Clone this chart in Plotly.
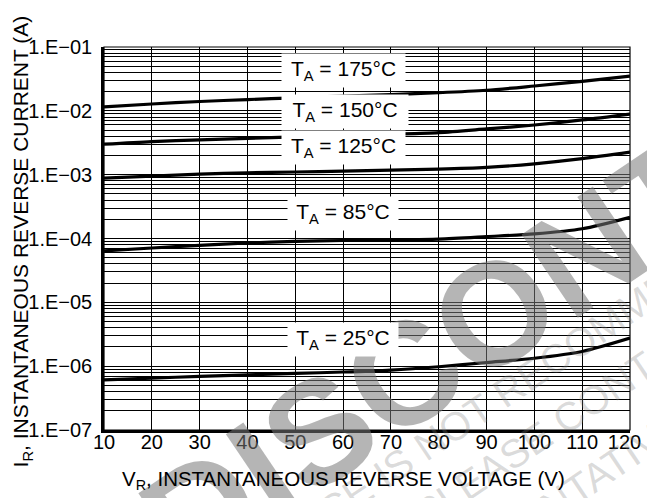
import math
import plotly.graph_objects as go

voltage = [10, 20, 30, 40, 50, 60, 70, 80, 90, 100, 110, 120]
i_175 = [1.15e-2, 1.28e-2, 1.4e-2, 1.5e-2, 1.6e-2, 1.7e-2, 1.8e-2, 1.92e-2, 2.1e-2, 2.45e-2, 2.9e-2, 3.5e-2]
i_150 = [3.0e-3, 3.3e-3, 3.5e-3, 3.7e-3, 3.9e-3, 4.1e-3, 4.3e-3, 4.55e-3, 5.2e-3, 6.0e-3, 7.2e-3, 8.9e-3]
i_125 = [8.8e-4, 9.5e-4, 1.02e-3, 1.07e-3, 1.1e-3, 1.14e-3, 1.18e-3, 1.22e-3, 1.3e-3, 1.48e-3, 1.78e-3, 2.25e-3]
i_85 = [6.4e-5, 7.1e-5, 7.8e-5, 8.5e-5, 9.0e-5, 9.3e-5, 9.5e-5, 9.8e-5, 1.07e-4, 1.18e-4, 1.42e-4, 2.15e-4]
i_25 = [6.1e-7, 6.5e-7, 6.9e-7, 7.3e-7, 7.7e-7, 8.1e-7, 8.7e-7, 9.8e-7, 1.14e-6, 1.33e-6, 1.7e-6, 2.75e-6]

series = [("175", i_175), ("150", i_150), ("125", i_125), ("85", i_85), ("25", i_25)]
label_x = [60, 60.5, 60, 60, 60]
label_y = [3.57e-2, 8.2e-3, 2.2e-3, 2.05e-4, 2.2e-6]
label_w = [121, 124, 121, 108, 108]

x_ticks = [10, 20, 30, 40, 50, 60, 70, 80, 90, 100, 110, 120]
x_tick_text = ["10", "20", "30", "40", "50", "60", "70", "80", "90", "100", "110", "120\u00a0\u00a0"]

decades = [-7, -6, -5, -4, -3, -2, -1]
tick_vals = []
tick_text = []
for e in decades:
    for k in range(1, 10):
        if e == -1 and k > 1:
            break
        tick_vals.append(k * 10.0 ** e)
        tick_text.append("1.E\u22120%d" % (-e) if k == 1 else "")

watermark_lines = ["THIS DEVICE IS NOT RECOMMENDED FOR NEW DESIGN",
                   "PLEASE CONTACT YOUR ON SEMICONDUCTOR",
                   "REPRESENTATIVE FOR INFORMATION"]

FONT = "Liberation Sans, Arial, Helvetica, sans-serif"


def px(xp):
    return (xp - 96) / 548


def py(yp):
    return (422 - yp) / 383


fig = go.Figure()
for name, vals in series:
    fig.add_trace(go.Scatter(x=voltage, y=vals, mode="lines", name=name,
                             line=dict(color="black", width=3.2, shape="spline", smoothing=0.8),
                             showlegend=False, hoverinfo="skip"))

annotations = [
    dict(text="<b>DISCONTINUED</b>", xref="paper", yref="paper",
         x=px(632), y=py(221), xanchor="center", yanchor="middle",
         textangle=-34, showarrow=False,
         font=dict(family=FONT, size=146, color="rgba(120,120,120,0.55)")),
]
for txt, (cx, cy) in zip(watermark_lines, [(627, 311), (822, 252), (709, 403)]):
    annotations.append(dict(text=txt, xref="paper", yref="paper", x=px(cx), y=py(cy),
                            xanchor="center", yanchor="middle", textangle=-34, showarrow=False,
                            font=dict(family=FONT, size=40, color="rgba(130,130,130,0.28)")))
for (name, _), lx, ly, lw in zip(series, label_x, label_y, label_w):
    annotations.append(dict(text="T<sub>A</sub> = %s\u00b0C" % name, x=lx, y=math.log10(ly),
                            xref="x", yref="y", showarrow=False, bgcolor="white",
                            width=lw, height=31, align="center", valign="middle", yshift=5,
                            font=dict(family=FONT, size=21, color="black")))
annotations.append(dict(text="V<sub>R</sub>, INSTANTANEOUS REVERSE VOLTAGE (V)",
                        xref="paper", yref="paper", x=px(345), y=py(472),
                        xanchor="center", yanchor="middle", showarrow=False,
                        font=dict(family=FONT, size=20.5, color="black")))
annotations.append(dict(text="I<sub>R</sub>, INSTANTANEOUS REVERSE CURRENT (A)",
                        xref="paper", yref="paper", x=px(11), y=py(233),
                        xanchor="center", yanchor="middle", textangle=-90, showarrow=False,
                        font=dict(family=FONT, size=21, color="black")))

fig.update_layout(
    width=655, height=498, autosize=False,
    margin=dict(l=96, r=11, t=39, b=76),
    paper_bgcolor="white", plot_bgcolor="white",
    font=dict(family=FONT, size=20, color="black"),
    annotations=annotations,
    shapes=[dict(type="rect", xref="paper", yref="paper", x0=0, y0=0, x1=1, y1=1,
                 line=dict(color="black", width=1.2), layer="above")],
)
fig.update_xaxes(range=[10, 120], tickmode="array", tickvals=x_ticks, ticktext=x_tick_text,
                 showgrid=True, gridcolor="black",
                 gridwidth=1.2, zeroline=False, showline=True, linecolor="black", linewidth=2.5,
                 ticks="", ticklabelstandoff=-8, ticklabeloverflow="allow",
                 tickfont=dict(family=FONT, size=20, color="black"))
fig.update_yaxes(type="log", range=[-7, -1], tickmode="array", tickvals=tick_vals, ticktext=tick_text,
                 showgrid=True, gridcolor="black", gridwidth=1, zeroline=False, showline=True,
                 linecolor="black", linewidth=2.5, ticks="", ticklabelstandoff=5,
                 ticklabeloverflow="allow",
                 tickfont=dict(family=FONT, size=20, color="black"))

fig.write_html("out.html")
